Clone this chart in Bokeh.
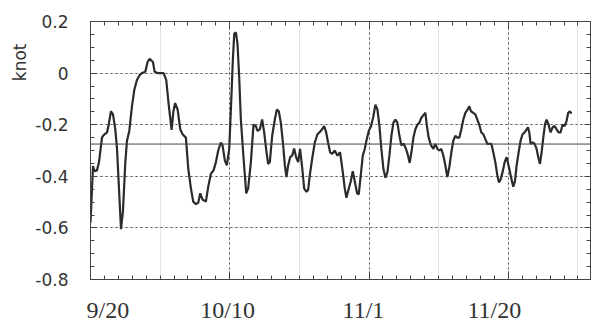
from bokeh.plotting import figure
from bokeh.models import (Range1d, LinearAxis, FixedTicker, Grid, Span, Title)
from bokeh.embed import file_html
from bokeh.resources import INLINE

# ---- data ----
# x: days after 9/20 ; y: current speed (knot)
day_offsets = [
    0.0, 0.36, 0.55, 0.93, 1.22, 1.65, 1.89, 2.37, 2.61, 2.94, 3.23, 3.56, 3.80, 4.09, 4.38, 4.66,
    5.0, 5.24, 5.57, 5.95, 6.29, 6.67, 7.05, 7.39, 7.87, 8.20, 8.49, 8.97, 9.21, 9.64, 10.50,
    10.88, 11.22, 11.65, 11.9, 12.15, 12.51, 12.89, 13.22, 13.70, 14.04, 14.42, 14.75, 15.14,
    15.47, 15.76, 16.09, 16.57, 16.91, 17.29, 17.67, 18.01, 18.34, 18.72, 18.96, 19.30, 19.58,
    19.92, 20.16, 20.44, 20.64, 20.88, 21.11, 21.35, 21.59, 21.98, 22.36, 22.64, 23.03, 23.41,
    23.74, 23.98, 24.32, 24.65, 24.94, 25.28, 25.51, 25.75, 26.09, 26.47, 26.76, 27.04, 27.33,
    27.67, 27.91, 28.14, 28.38, 28.67, 28.96, 29.24, 29.53, 29.82, 30.10, 30.39, 30.68, 31.01,
    31.25, 31.49, 31.83, 32.21, 32.59, 32.93, 33.26, 33.55, 33.84, 34.12, 34.41, 34.70, 35.08,
    35.46, 35.84, 36.23, 36.51, 36.75, 37.09, 37.37, 37.66, 37.95, 38.28, 38.52, 38.81, 39.10,
    39.38, 39.67, 39.96, 40.29, 40.63, 40.91, 41.20, 41.49, 41.77, 42.06, 42.35, 42.64, 42.92,
    43.21, 43.50, 43.78, 44.07, 44.36, 44.64, 44.98, 45.31, 45.60, 45.84, 46.08, 46.37, 46.65,
    46.94, 47.23, 47.51, 47.90, 48.09, 48.28, 48.56, 48.90, 49.24, 49.52, 49.81, 50.10, 50.38,
    50.67, 50.96, 51.24, 51.53, 51.82, 52.10, 52.39, 52.68, 52.97, 53.25, 53.54, 53.83, 54.16,
    54.40, 54.64, 54.97, 55.26, 55.55, 55.83, 56.12, 56.41, 56.70, 56.98, 57.27, 57.56, 57.84,
    58.13, 58.42, 58.66, 58.94, 59.23, 59.47, 59.76, 60.14, 60.43, 60.71, 60.95, 61.19, 61.48,
    61.76, 62.05, 62.34, 62.63, 62.82, 63.01, 63.20, 63.49, 63.77, 64.06, 64.30, 64.54, 64.78,
    65.02, 65.26, 65.49, 65.78, 66.07, 66.36, 66.64, 66.93, 67.22, 67.50, 67.79, 68.08, 68.36,
    68.60, 68.84, 69.08,
]
current_knot = [
    -0.58, -0.36, -0.38, -0.377, -0.345, -0.25, -0.24, -0.23, -0.20, -0.148, -0.16, -0.218, -0.29,
    -0.447, -0.605, -0.536,
    -0.345, -0.262, -0.224, -0.129, -0.065, -0.027, -0.008, 0.0, 0.005, 0.043, 0.055, 0.043, 0.005,
    0.0, 0.0,
    -0.027, -0.12, -0.22, -0.15, -0.116, -0.141, -0.218, -0.237, -0.25, -0.371, -0.447, -0.498,
    -0.508,
    -0.503, -0.466, -0.49, -0.498, -0.44, -0.39, -0.377, -0.345, -0.30, -0.269, -0.28, -0.339,
    -0.358,
    -0.294, -0.141, 0.05, 0.152, 0.158, 0.113, -0.014, -0.18, -0.33, -0.466, -0.447, -0.345, -0.20,
    -0.205, -0.224, -0.218, -0.18, -0.23, -0.307, -0.352, -0.345, -0.243, -0.18, -0.141, -0.148,
    -0.192,
    -0.28, -0.358, -0.403, -0.358, -0.326, -0.32, -0.292, -0.326, -0.345, -0.294, -0.364, -0.447,
    -0.46,
    -0.453, -0.396, -0.332, -0.269, -0.237, -0.228, -0.218, -0.205, -0.23, -0.269, -0.307, -0.313,
    -0.30,
    -0.32, -0.307, -0.384, -0.447, -0.483, -0.447, -0.42, -0.38, -0.42, -0.466, -0.47, -0.396,
    -0.32,
    -0.294, -0.256, -0.224, -0.205, -0.167, -0.122, -0.141, -0.205, -0.294, -0.371, -0.406, -0.384,
    -0.32,
    -0.243, -0.192, -0.18, -0.192, -0.243, -0.28, -0.274, -0.294, -0.32, -0.348, -0.307, -0.25,
    -0.218,
    -0.20, -0.192, -0.173, -0.16, -0.154, -0.20, -0.25, -0.28, -0.294, -0.274, -0.294, -0.30,
    -0.294,
    -0.32, -0.358, -0.403, -0.364, -0.307, -0.262, -0.243, -0.25, -0.25, -0.218, -0.18, -0.154,
    -0.141,
    -0.129, -0.148, -0.154, -0.16, -0.18, -0.20, -0.23, -0.237, -0.256, -0.274, -0.274, -0.274,
    -0.307,
    -0.345, -0.396, -0.424, -0.409, -0.377, -0.345, -0.326, -0.371, -0.409, -0.44, -0.42, -0.358,
    -0.307,
    -0.262, -0.237, -0.23, -0.218, -0.21, -0.23, -0.274, -0.269, -0.274, -0.294, -0.326, -0.352,
    -0.307,
    -0.25, -0.20, -0.18, -0.20, -0.23, -0.21, -0.205, -0.218, -0.23, -0.23, -0.20, -0.205, -0.186,
    -0.154, -0.148, -0.157,
]
mean_level = -0.275

x_major_ticks = [0, 20, 40, 60]
x_tick_labels = ["9/20", "10/10", "11/1", "11/20"]
x_label_positions = [2.5, 19.7, 39.2, 58.0]
y_major_ticks = [-0.8, -0.6, -0.4, -0.2, 0, 0.2]
y_tick_labels = ["-0.8", "-0.6", "-0.4", "-0.2", "0", "0.2"]
y_axis_title = "knot"

# ---- figure ----
p = figure(width=592, height=325, x_range=Range1d(0, 71.8), y_range=Range1d(-0.8, 0.2),
           output_backend="svg", toolbar_location=None,
           x_axis_location=None, y_axis_location=None,
           min_border_left=90, min_border_right=2, min_border_top=21, min_border_bottom=45)
p.outline_line_color = "#444444"
p.outline_line_width = 1
p.background_fill_color = "white"
p.border_fill_color = "white"

x_minor = [float(v) for v in range(0, 72, 2)]
y_minor = [round(-0.8 + 0.05 * i, 2) for i in range(21)]

tick_color = "#444444"

def tick_axis(positions, length):
    # an axis that only draws inward tick marks (no labels)
    return LinearAxis(ticker=FixedTicker(ticks=[], minor_ticks=positions),
                      axis_line_color=tick_color,
                      major_tick_in=0, major_tick_out=0,
                      minor_tick_in=length, minor_tick_out=0,
                      minor_tick_line_color=tick_color, major_label_standoff=0)

left = LinearAxis(ticker=FixedTicker(ticks=y_major_ticks, minor_ticks=y_minor),
                  major_label_overrides=dict(zip(y_major_ticks, y_tick_labels)),
                  axis_line_color=tick_color,
                  major_tick_in=6, major_tick_out=0, minor_tick_in=4, minor_tick_out=0,
                  major_tick_line_color=tick_color, minor_tick_line_color=tick_color,
                  major_label_standoff=22, major_label_text_font="DejaVu Sans",
                  major_label_text_font_size="17px", major_label_text_color="#333333")
p.add_layout(left, "left")

p.add_layout(tick_axis(y_minor, 4), "right")
p.add_layout(tick_axis(y_major_ticks, 6), "right")
p.add_layout(tick_axis(x_minor, 4), "above")
p.add_layout(tick_axis(x_major_ticks, 7), "above")
p.add_layout(tick_axis(x_minor, 4), "below")
p.add_layout(tick_axis(x_major_ticks, 8), "below")

xlabels = LinearAxis(ticker=FixedTicker(ticks=x_label_positions, minor_ticks=[]),
                     major_label_overrides=dict(zip(x_label_positions, x_tick_labels)),
                     axis_line_color=None, major_tick_line_color=None, minor_tick_line_color=None,
                     major_tick_in=0, major_tick_out=0,
                     major_label_standoff=17, major_label_text_font="Liberation Serif",
                     major_label_text_font_size="24px", major_label_text_color="#333333")
p.add_layout(xlabels, "below")

p.add_layout(Title(text=y_axis_title, align="right", offset=22, standoff=6,
                   text_font="DejaVu Sans", text_font_size="17px",
                   text_font_style="normal", text_color="#333333"), "left")

grid_kw = dict(grid_line_color="#555555", grid_line_dash="2 3", grid_line_width=1)
p.add_layout(Grid(dimension=0, ticker=FixedTicker(ticks=[20, 40, 60]), **grid_kw))
p.add_layout(Grid(dimension=1, ticker=FixedTicker(ticks=[-0.6, -0.4, -0.2, 0]), **grid_kw))

p.add_layout(Span(location=mean_level, dimension="width", line_color="#444444", line_width=1))

p.line(day_offsets, current_knot, line_color="#2b2b2b", line_width=2.2)

open("out.html", "w").write(file_html(p, INLINE))
